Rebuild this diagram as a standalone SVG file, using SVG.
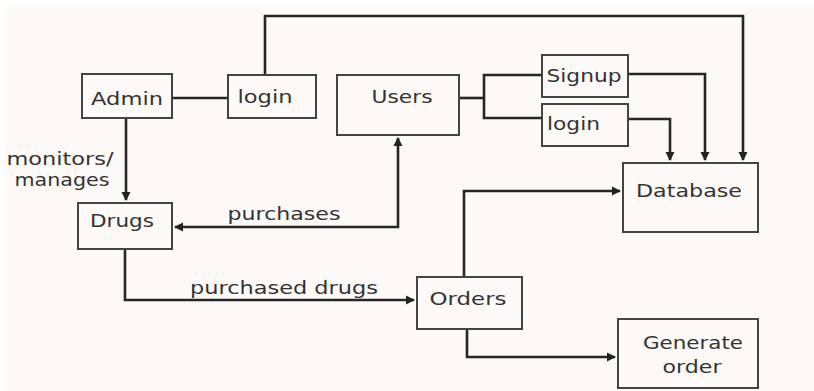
<svg xmlns="http://www.w3.org/2000/svg" width="814" height="391" viewBox="0 0 814 391">
<defs>
<marker id="ah" viewBox="0 0 10 10" refX="9" refY="5" markerWidth="3.6" markerHeight="3.6" orient="auto-start-reverse" markerUnits="strokeWidth">
<path d="M0,0 L10,5 L0,10 z" fill="#222"/>
</marker>
<style>
.box{fill:#fcf9f7;stroke:#444;stroke-width:2}
.ln{fill:none;stroke:#262626;stroke-width:2.6}
.t{font-family:"DejaVu Sans","Open Sans",sans-serif;font-size:17px;fill:#333;text-anchor:middle}
.tl{font-family:"DejaVu Sans","Open Sans",sans-serif;font-size:17px;fill:#333}
</style>
</defs>
<rect x="0" y="0" width="814" height="391" fill="#ffffff"/>
<rect x="5" y="7" width="809" height="384" fill="#fcf9f7"/>
<g id="connectors">
<path class="ln" d="M172,98 H228"/>
<path class="ln" d="M265,75 V16 H743 V160" marker-end="url(#ah)"/>
<path class="ln" d="M126,118 V200" marker-end="url(#ah)"/>
<path class="ln" d="M175,227 H398 V138" marker-start="url(#ah)" marker-end="url(#ah)"/>
<path class="ln" d="M459,98 H484"/>
<path class="ln" d="M542,75 H484 V118 H542"/>
<path class="ln" d="M628,74 H705 V160" marker-end="url(#ah)"/>
<path class="ln" d="M628,119 H670 V160" marker-end="url(#ah)"/>
<path class="ln" d="M125,249 V300 H414" marker-end="url(#ah)"/>
<path class="ln" d="M464,277 V191 H620" marker-end="url(#ah)"/>
<path class="ln" d="M467,329 V357 H615" marker-end="url(#ah)"/>
<text class="t" x="60" y="165" textLength="107" lengthAdjust="spacingAndGlyphs">monitors/</text>
<text class="t" x="62" y="186" textLength="95" lengthAdjust="spacingAndGlyphs">manages</text>
<text class="t" x="284" y="220" textLength="113" lengthAdjust="spacingAndGlyphs">purchases</text>
<text class="t" x="284" y="294" textLength="188" lengthAdjust="spacingAndGlyphs">purchased drugs</text>
</g>
<g id="admin"><rect class="box" x="82" y="74" width="90" height="44"/><text class="t" x="127" y="105" textLength="72" lengthAdjust="spacingAndGlyphs">Admin</text></g>
<g id="admin-login"><rect class="box" x="228" y="75" width="88" height="43"/><text class="t" x="265" y="103" textLength="55" lengthAdjust="spacingAndGlyphs">login</text></g>
<g id="users"><rect class="box" x="337" y="75" width="122" height="60"/><text class="t" x="402" y="103" textLength="61" lengthAdjust="spacingAndGlyphs">Users</text></g>
<g id="signup"><rect class="box" x="542" y="55" width="86" height="42"/><text class="t" x="584" y="82" textLength="75" lengthAdjust="spacingAndGlyphs">Signup</text></g>
<g id="user-login"><rect class="box" x="542" y="104" width="86" height="42"/><text class="tl" x="547" y="130" textLength="53" lengthAdjust="spacingAndGlyphs">login</text></g>
<g id="database"><rect class="box" x="623" y="163" width="135" height="69"/><text class="t" x="689" y="197" textLength="106" lengthAdjust="spacingAndGlyphs">Database</text></g>
<g id="drugs"><rect class="box" x="78" y="203" width="94" height="46"/><text class="t" x="122" y="227" textLength="64" lengthAdjust="spacingAndGlyphs">Drugs</text></g>
<g id="orders"><rect class="box" x="417" y="277" width="105" height="52"/><text class="t" x="468" y="305" textLength="77" lengthAdjust="spacingAndGlyphs">Orders</text></g>
<g id="generate-order"><rect class="box" x="618" y="319" width="140" height="69"/><text class="t" x="693" y="349" textLength="100" lengthAdjust="spacingAndGlyphs">Generate</text><text class="t" x="692" y="373" textLength="59" lengthAdjust="spacingAndGlyphs">order</text></g>
</svg>
